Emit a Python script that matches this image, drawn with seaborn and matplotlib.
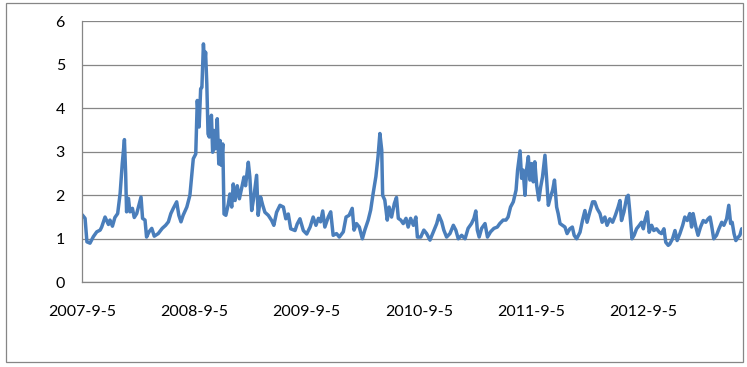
#!/usr/bin/env python
# -*- coding: utf-8 -*-

import numpy as np
import pandas as pd
import matplotlib
matplotlib.use("Agg")
import matplotlib.pyplot as plt
from matplotlib.patches import Rectangle
import seaborn as sns

START_DATE = "2007-09-05"

# zile de la START_DATE pentru fiecare punct citit
DAYS = [
    1, 10, 16, 26, 37, 48, 59, 64, 75, 86, 91, 99, 107, 116, 124, 131, 138, 142, 145, 151,
    156, 164, 170, 178, 185, 192, 197, 205, 210, 218, 227, 235, 248, 261, 272, 281, 289, 297, 308, 315,
    322, 329, 341, 351, 362, 370, 375, 381, 386, 390, 395, 399, 402, 406, 410, 414, 421, 425, 429, 434,
    440, 445, 449, 453, 458, 462, 468, 476, 481, 487, 492, 498, 505, 512, 519, 527, 532, 541, 546, 552,
    559, 568, 573, 581, 588, 595, 606, 617, 624, 633, 644, 655, 663, 671, 679, 693, 700, 709, 720, 731,
    742, 752, 761, 769, 776, 783, 790, 801, 809, 817, 828, 837, 850, 859, 869, 879, 885, 893, 902, 912,
    920, 931, 939, 947, 956, 963, 969, 975, 978, 985, 993, 999, 1007, 1016, 1023, 1029, 1037, 1045, 1054, 1061,
    1069, 1078, 1086, 1091, 1102, 1112, 1121, 1132, 1143, 1154, 1161, 1170, 1177, 1186, 1197, 1208, 1216, 1224, 1235, 1246,
    1256, 1267, 1275, 1281, 1286, 1292, 1300, 1311, 1319, 1329, 1340, 1351, 1359, 1370, 1379, 1386, 1394, 1403, 1412, 1417,
    1425, 1430, 1435, 1441, 1446, 1452, 1457, 1463, 1468, 1473, 1479, 1486, 1492, 1498, 1506, 1511, 1517, 1524, 1531, 1537,
    1544, 1549, 1555, 1563, 1571, 1578, 1587, 1595, 1601, 1609, 1620, 1628, 1636, 1643, 1652, 1661, 1668, 1676, 1685, 1692,
    1701, 1708, 1717, 1726, 1735, 1744, 1750, 1755, 1763, 1772, 1777, 1782, 1789, 1796, 1804, 1813, 1820, 1826, 1831, 1839,
    1845, 1853, 1860, 1869, 1878, 1885, 1893, 1899, 1907, 1912, 1921, 1929, 1936, 1945, 1954, 1961, 1969, 1977, 1983, 1988,
    1997, 2004, 2012, 2021, 2029, 2037, 2043, 2048, 2055, 2064, 2072, 2081, 2088, 2097, 2104, 2110, 2115, 2121, 2127, 2135,
    2140, 2146,
]

VALUES = [
    1.55, 1.47, 0.93, 0.90, 1.05, 1.16, 1.20, 1.27, 1.50, 1.33, 1.43, 1.29, 1.49, 1.58, 2.04, 2.73, 3.28, 2.50, 1.62, 1.93,
    1.62, 1.70, 1.49, 1.58, 1.77, 1.96, 1.47, 1.43, 1.04, 1.16, 1.24, 1.06, 1.12, 1.24, 1.31, 1.39, 1.58, 1.70, 1.85, 1.54,
    1.39, 1.54, 1.73, 2.00, 2.84, 2.95, 4.18, 3.57, 4.45, 4.48, 5.48, 5.02, 5.29, 4.56, 3.41, 3.34, 3.84, 2.99, 3.49, 3.07,
    3.76, 2.72, 3.26, 2.69, 3.18, 1.57, 1.54, 1.80, 2.03, 1.73, 2.26, 1.88, 2.22, 1.92, 2.15, 2.42, 2.22, 2.76, 2.42, 1.65,
    1.96, 2.46, 1.54, 1.96, 1.77, 1.61, 1.54, 1.42, 1.31, 1.61, 1.77, 1.73, 1.46, 1.57, 1.23, 1.19, 1.34, 1.46, 1.19, 1.11,
    1.27, 1.50, 1.31, 1.47, 1.39, 1.64, 1.27, 1.50, 1.62, 1.08, 1.12, 1.04, 1.16, 1.50, 1.54, 1.70, 1.20, 1.35, 1.27, 1.00,
    1.20, 1.43, 1.66, 2.04, 2.43, 2.89, 3.42, 3.04, 2.00, 1.89, 1.43, 1.73, 1.50, 1.81, 1.95, 1.47, 1.43, 1.35, 1.47, 1.27,
    1.47, 1.31, 1.50, 1.04, 1.04, 1.20, 1.12, 0.97, 1.16, 1.35, 1.54, 1.39, 1.20, 1.04, 1.12, 1.31, 1.20, 1.00, 1.08, 1.00,
    1.24, 1.35, 1.47, 1.64, 1.20, 1.04, 1.24, 1.35, 1.04, 1.16, 1.24, 1.27, 1.35, 1.43, 1.43, 1.50, 1.73, 1.85, 2.12, 2.58,
    3.02, 2.39, 2.58, 2.00, 2.58, 2.89, 2.35, 2.73, 2.31, 2.77, 2.23, 1.89, 2.19, 2.42, 2.92, 2.42, 1.77, 1.96, 2.12, 2.35,
    1.73, 1.58, 1.35, 1.31, 1.27, 1.12, 1.23, 1.27, 1.08, 1.00, 1.15, 1.42, 1.65, 1.38, 1.62, 1.85, 1.85, 1.69, 1.58, 1.38,
    1.50, 1.31, 1.46, 1.38, 1.54, 1.73, 1.88, 1.42, 1.62, 1.96, 2.00, 1.62, 1.00, 1.08, 1.23, 1.31, 1.38, 1.23, 1.42, 1.62,
    1.15, 1.31, 1.19, 1.23, 1.15, 1.12, 1.23, 0.92, 0.85, 0.88, 1.00, 1.19, 0.96, 1.12, 1.31, 1.50, 1.42, 1.58, 1.27, 1.58,
    1.27, 1.08, 1.27, 1.42, 1.38, 1.46, 1.50, 1.31, 1.00, 1.08, 1.23, 1.38, 1.31, 1.46, 1.77, 1.35, 1.38, 1.12, 0.96, 1.04,
    1.08, 1.23,
]

TICK_LABELS = ["2007-9-5", "2008-9-5", "2009-9-5", "2010-9-5", "2011-9-5", "2012-9-5"]
Y_TICKS = [0, 1, 2, 3, 4, 5, 6]

LINE_COLOR = "#4A7EBB"
GRAY = "#868686"


def build_frame():
    dates = pd.Timestamp(START_DATE) + pd.to_timedelta(DAYS, unit="D")
    return pd.DataFrame({"date": dates, "value": VALUES})


def main():
    sns.set_style("white")
    plt.rcParams["font.family"] = ["Lato", "DejaVu Sans"]

    df = build_frame()

    fig = plt.figure(figsize=(7.47, 3.67), dpi=100)
    ax = fig.add_axes([82 / 747, 1 - 282.3 / 367, (741.7 - 82) / 747, (282.3 - 21.3) / 367])

    sns.lineplot(data=df, x="date", y="value", ax=ax, color=LINE_COLOR, linewidth=2.5)

    ax.set_xlim(df["date"].iloc[0] - pd.Timedelta(days=1), df["date"].iloc[-1])
    ax.set_ylim(0, 6)
    ax.set_yticks(Y_TICKS)
    ax.set_yticklabels([str(v) for v in Y_TICKS])
    ax.set_xticks(pd.to_datetime(TICK_LABELS, format="%Y-%m-%d"))
    ax.set_xticklabels(TICK_LABELS)
    ax.set_xlabel("")
    ax.set_ylabel("")

    ax.yaxis.grid(True, color=GRAY, linewidth=0.9)
    ax.xaxis.grid(False)
    for side in ["top", "right"]:
        ax.spines[side].set_visible(False)
    for side in ["left", "bottom"]:
        ax.spines[side].set_color(GRAY)
        ax.spines[side].set_linewidth(0.9)

    ax.tick_params(axis="both", direction="out", length=4.3, width=0.9, color=GRAY,
                   labelsize=11.5, labelcolor="black")
    ax.tick_params(axis="x", pad=12)
    ax.tick_params(axis="y", pad=8)

    # chenarul exterior al graficului
    fig.add_artist(Rectangle((5.5 / 747, 1 - 361.7 / 367), (743.3 - 5.5) / 747, (361.7 - 3.3) / 367,
                             transform=fig.transFigure, fill=False, edgecolor=GRAY, linewidth=0.9))

    fig.savefig("out.png", dpi=100)
    plt.close(fig)


if __name__ == "__main__":
    main()
